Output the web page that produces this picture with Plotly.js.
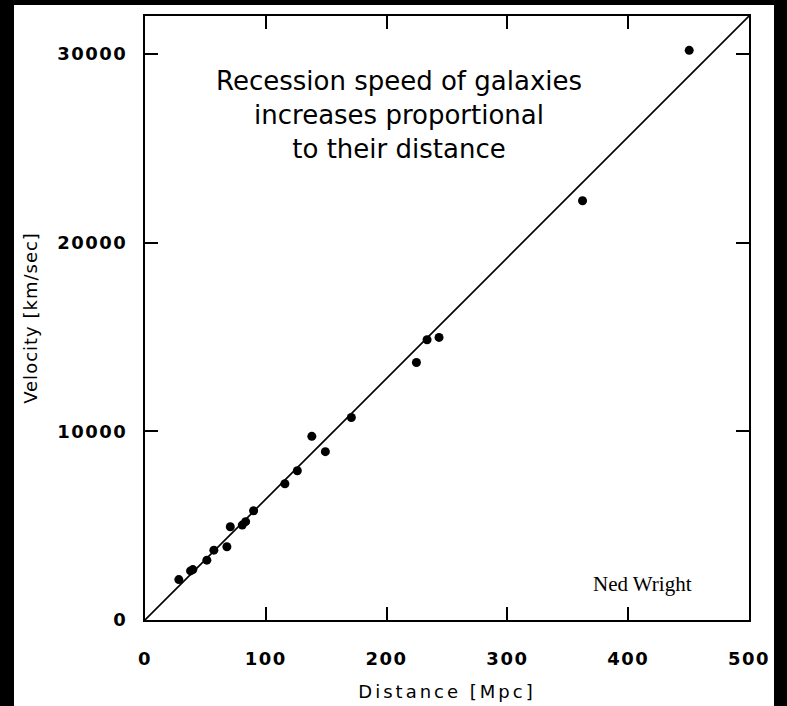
<!DOCTYPE html>
<html>
<head>
<meta charset="utf-8">
<script src="https://cdn.plot.ly/plotly-3.0.1.min.js"></script>
<style>
  html, body { margin: 0; padding: 0; background: #000; width: 787px; height: 706px; overflow: hidden; }
  #chart { position: absolute; left: 14px; top: 5px; width: 760px; height: 701px; background: #fff; }
  #chart .xtick text, #chart .ytick text { letter-spacing: 1.5px; }
  #chart .xtitle { letter-spacing: 3px; }
  #chart .ytitle { letter-spacing: 1px; }
</style>
</head>
<body>
<div id="chart"></div>
<script>
// Galaxy distances (Mpc) and recession velocities (km/sec)
const distanceMpc = [28.0, 37.7, 39.6, 51.2, 57.0, 67.8, 70.6, 80.5, 83.3, 89.9,
                     115.8, 126.1, 138.1, 149.3, 170.8, 224.7, 233.5, 243.4, 362.2, 450.5];
const velocityKms = [2140, 2600, 2670, 3170, 3700, 3880, 4940, 5030, 5210, 5790,
                     7220, 7910, 9730, 8920, 10730, 13640, 14850, 14970, 22210, 30180];

// Hubble law fit line
const hubbleConstant = 64; // km/sec/Mpc
const fitDistance = [0, 500];
const fitVelocity = fitDistance.map(d => d * hubbleConstant);

const xTicks = [0, 100, 200, 300, 400, 500];
const yTicks = [0, 10000, 20000, 30000];

const annotationText = 'Recession speed of galaxies<br>increases proportional<br>to their distance';
const creditText = 'Ned Wright';

const tickFont = { family: 'DejaVu Sans, Arial, sans-serif', size: 18, color: '#000', weight: 'bold' };
const titleFont = { family: 'DejaVu Sans, Arial, sans-serif', size: 18, color: '#000' };

const traces = [
  {
    x: fitDistance, y: fitVelocity, mode: 'lines', type: 'scatter',
    line: { color: '#000', width: 1.6 }, hoverinfo: 'skip', showlegend: false
  },
  {
    x: distanceMpc, y: velocityKms, mode: 'markers', type: 'scatter',
    marker: { color: '#000', size: 9, symbol: 'circle' }, showlegend: false
  }
];

const layout = {
  width: 760, height: 701,
  paper_bgcolor: '#fff', plot_bgcolor: '#fff',
  margin: { l: 131, r: 25, t: 11, b: 86, pad: 0 },
  showlegend: false,
  xaxis: {
    range: [0, 500], tickvals: xTicks, ticktext: xTicks.map(String),
    showgrid: false, zeroline: false,
    showline: true, linecolor: '#000', linewidth: 2, mirror: 'ticks',
    ticks: 'inside', ticklen: 13, tickwidth: 2, tickcolor: '#000',
    tickfont: tickFont, ticklabelstandoff: 21,
    title: { text: 'Distance [Mpc]', font: titleFont, standoff: 18 }
  },
  yaxis: {
    range: [0, 32000], tickvals: yTicks, ticktext: yTicks.map(String),
    showgrid: false, zeroline: false,
    showline: true, linecolor: '#000', linewidth: 2, mirror: 'ticks',
    ticks: 'inside', ticklen: 13, tickwidth: 2, tickcolor: '#000',
    tickfont: tickFont, ticklabelstandoff: 12,
    title: { text: 'Velocity [km/sec]', font: titleFont, standoff: 22 }
  },
  annotations: [
    {
      text: annotationText, xref: 'paper', yref: 'paper',
      x: 0.42, y: 0.9205, xanchor: 'center', yanchor: 'top', showarrow: false,
      align: 'center',
      font: { family: 'DejaVu Sans, Verdana, sans-serif', size: 26, color: '#000' }
    },
    {
      text: creditText, xref: 'paper', yref: 'paper',
      x: 0.824, y: 0.059, xanchor: 'center', yanchor: 'middle', showarrow: false,
      font: { family: 'Liberation Serif, Times New Roman, serif', size: 21, color: '#000' }
    }
  ]
};

Plotly.newPlot('chart', traces, layout, { displayModeBar: false, staticPlot: true });
</script>
</body>
</html>
